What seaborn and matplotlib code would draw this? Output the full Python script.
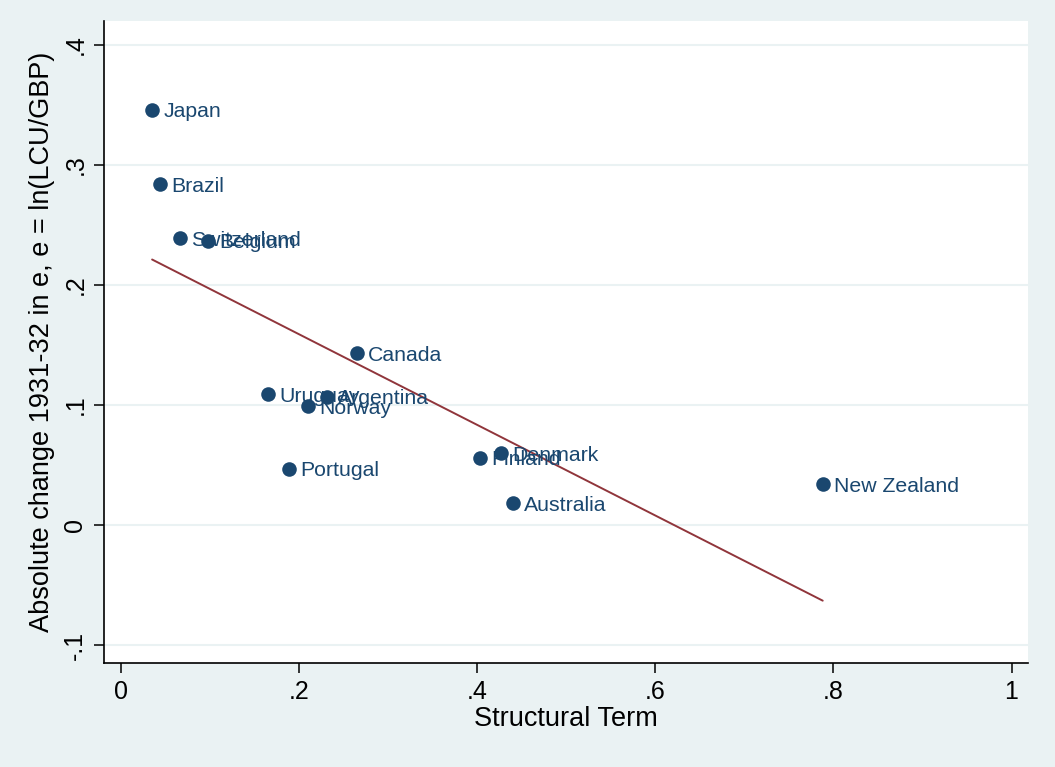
import numpy as np
import pandas as pd
import matplotlib
matplotlib.use("Agg")
import matplotlib.pyplot as plt
import seaborn as sns

countries = ["Japan", "Brazil", "Switzerland", "Belgium", "Canada", "Uruguay",
             "Argentina", "Norway", "Portugal", "Finland", "Denmark",
             "Australia", "New Zealand"]
structural = [0.035, 0.044, 0.066, 0.098, 0.265, 0.165,
              0.231, 0.210, 0.189, 0.403, 0.427, 0.440, 0.788]
abs_change = [0.346, 0.284, 0.239, 0.237, 0.143, 0.109,
              0.107, 0.099, 0.047, 0.056, 0.060, 0.018, 0.034]

x_ticks = [0, 0.2, 0.4, 0.6, 0.8, 1.0]
x_ticklabels = ["0", ".2", ".4", ".6", ".8", "1"]
y_ticks = [-0.1, 0, 0.1, 0.2, 0.3, 0.4]
y_ticklabels = ["-.1", "0", ".1", ".2", ".3", ".4"]

df = pd.DataFrame({"country": countries, "x": structural, "y": abs_change})

bg = "#eaf2f3"
navy = "#1a476f"
maroon = "#90353b"

sns.set_style("white")
plt.rcParams["font.family"] = ["Liberation Sans", "DejaVu Sans"]

fig, ax = plt.subplots(figsize=(10.55, 7.67), dpi=100)
fig.patch.set_facecolor(bg)
fig.subplots_adjust(left=0.0986, right=0.9744, top=0.9726, bottom=0.1356)

sns.scatterplot(data=df, x="x", y="y", ax=ax, color=navy, s=110,
                edgecolor=navy, linewidth=0, zorder=3)
sns.regplot(data=df, x="x", y="y", ax=ax, scatter=False, ci=None,
            line_kws={"color": maroon, "lw": 1.4, "zorder": 2})

# labels to the right of each marker, like Stata's mlabel
for _, r in df.iterrows():
    ax.annotate(r["country"], (r["x"], r["y"]), xytext=(8, 0),
                textcoords="offset points", va="center_baseline", ha="left",
                color=navy, fontsize=15.3, zorder=4)

ax.set_xlim(-0.019, 1.0185)
ax.set_ylim(-0.115, 0.42)
ax.set_xticks(x_ticks)
ax.set_xticklabels(x_ticklabels, fontsize=18)
ax.set_yticks(y_ticks)
ax.set_yticklabels(y_ticklabels, fontsize=18, rotation=90, va="center")
ax.yaxis.grid(True, color=bg, lw=1.5)
ax.set_axisbelow(True)

for side in ["top", "right"]:
    ax.spines[side].set_visible(False)
for side in ["left", "bottom"]:
    ax.spines[side].set_color("black")
    ax.spines[side].set_linewidth(1.2)
ax.tick_params(axis="both", direction="out", length=7, width=1.1,
               color="black", labelcolor="black", left=True, bottom=True, pad=5)

ax.set_xlabel("Structural Term", fontsize=19.5, labelpad=2, color="black")
ax.set_ylabel("Absolute change 1931-32 in e, e = ln(LCU/GBP)", fontsize=19.5,
              labelpad=6, color="black")

fig.savefig("out.png", dpi=100, facecolor=bg)
